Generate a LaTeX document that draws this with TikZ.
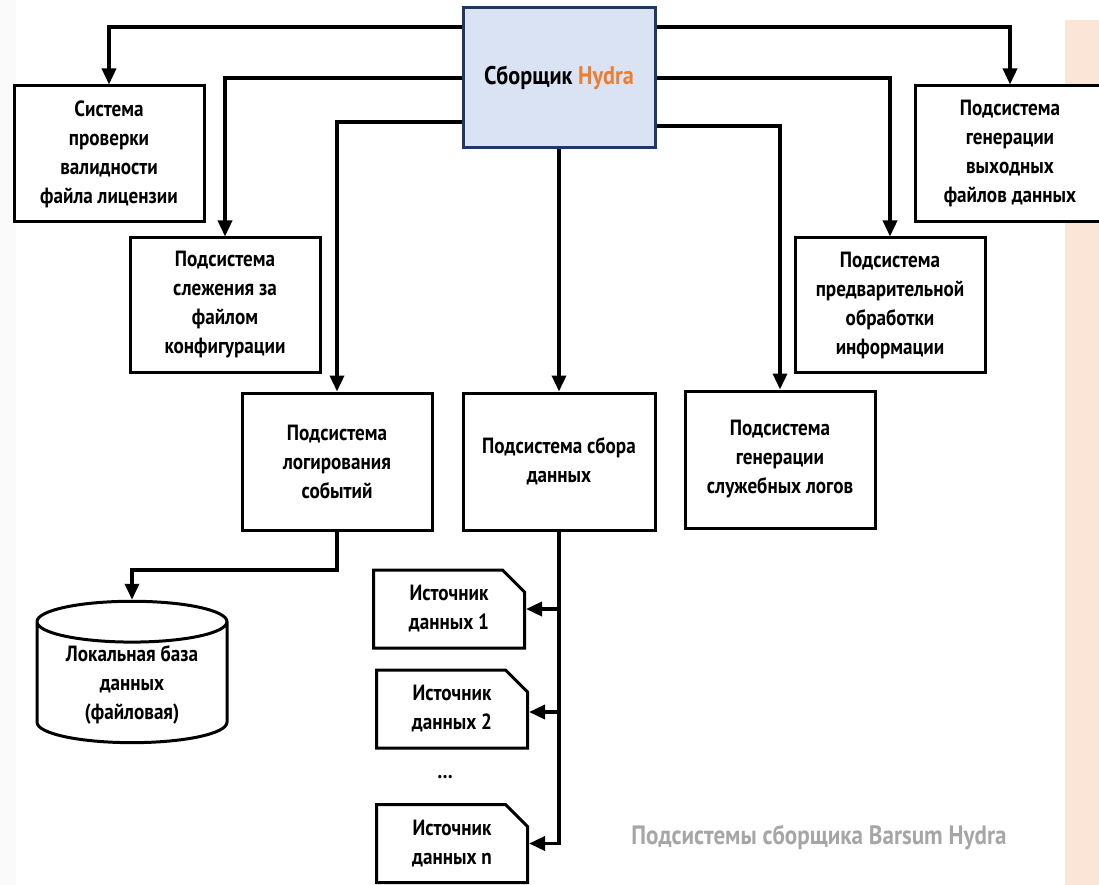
\documentclass[tikz,border=0pt]{standalone}
\usepackage{fontspec}
\setmainfont{PT Sans}[FakeStretch=0.87]
\usetikzlibrary{shapes.geometric,shapes.misc,arrows.meta}
\definecolor{hydrablue}{HTML}{DAE3F3}
\definecolor{hydraedge}{HTML}{1F3864}
\definecolor{hydraorange}{HTML}{ED7D31}
\definecolor{captiongray}{HTML}{A6A6A6}
\definecolor{sidepeach}{HTML}{FBE5D6}
\definecolor{sidegray}{HTML}{FAFAFA}

\tikzset{
	subbox/.style={draw, line width=3pt, fill=white, minimum width=190pt, minimum height=136pt,
		align=center, inner sep=2pt, font=\fontsize{22}{29}\selectfont\bfseries},
	srcbox/.style={chamfered rectangle, chamfered rectangle corners=north east,
		chamfered rectangle sep=11pt, draw, line width=3pt, fill=white,
		minimum width=151pt, minimum height=78pt, align=center, inner sep=2pt,
		font=\fontsize{22}{29}\selectfont\bfseries},
	wire/.style={line width=3.5pt},
	arr/.style={wire, -{Triangle[length=16pt,width=14pt]}},
}

\begin{document}
\begin{tikzpicture}[x=1pt, y=-1pt]
	\useasboundingbox (0,0) rectangle (1099,885);
	\fill[sidegray] (0,0) rectangle (16,885);
	\fill[sidepeach] (1065,20) rectangle (1099,885);

	% Nodes:
	\node[subbox, fill=hydrablue, draw=hydraedge, minimum width=192pt, minimum height=140pt,
		font=\fontsize{25.5}{29}\selectfont\bfseries] (hydra) at (559,78)
		{Сборщик \textcolor{hydraorange}{Hydra}};
	\node[subbox] (lic) at (109,154) {Система\\проверки\\валидности\\файла лицензии};
	\node[subbox, minimum height=134pt] (conf) at (225,305) {Подсистема\\слежения за\\файлом\\конфигурации};
	\node[subbox, minimum height=137pt] (logg) at (337,461.5) {Подсистема\\логирования\\событий};
	\node[subbox, minimum width=192pt, minimum height=137pt] (sbor) at (559,461.5) {Подсистема сбора\\данных};
	\node[subbox, minimum height=137pt] (slog) at (780,459.5) {Подсистема\\генерации\\служебных логов};
	\node[subbox, minimum height=134pt] (prep) at (890,305) {Подсистема\\предварительной\\обработки\\информации};
	\node[subbox] (outf) at (1010,154) {Подсистема\\генерации\\выходных\\файлов данных};
	\node[cylinder, shape border rotate=90, aspect=0.3, draw, line width=3pt, fill=white,
		minimum width=190pt, minimum height=102pt, align=center, inner sep=2pt,
		font=\fontsize{22}{29}\selectfont\bfseries] (db) at (132,685) {Локальная база\\данных\\(файловая)};
	\node[srcbox] (src1) at (449,609) {Источник\\данных 1};
	\node[srcbox] (src2) at (452,709) {Источник\\данных 2};
	\node[srcbox] (srcn) at (452,843.5) {Источник\\данных n};
	\node[font=\fontsize{22}{29}\selectfont\bfseries] (dots) at (445,777) {…};
	\node[text=captiongray, font=\fontsize{26.5}{29}\selectfont\bfseries] (cap) at (819,838)
		{Подсистемы сборщика Barsum Hydra};

	% Wires:
	\draw[arr] (hydra.west |- 0,27) -| (lic.north);
	\draw[arr] (hydra.west |- 0,78) -| (conf.north);
	\draw[arr] (hydra.west |- 0,122) -| (logg.north);
	\draw[arr] (hydra.south) -- (sbor.north);
	\draw[arr] (hydra.east |- 0,27) -| (outf.north);
	\draw[arr] (hydra.east |- 0,78) -| (prep.north);
	\draw[arr] (hydra.east |- 0,126) -| (slog.north);
	\draw[arr] (logg.south) -- (logg.south |- 0,570) -| (db.north);
	\draw[arr] (sbor.south) |- (srcn.east);
	\draw[arr] (sbor.south |- src1.east) -- (src1.east);
	\draw[arr] (sbor.south |- 0,712) -- (src2.east |- 0,712);
\end{tikzpicture}
\end{document}
